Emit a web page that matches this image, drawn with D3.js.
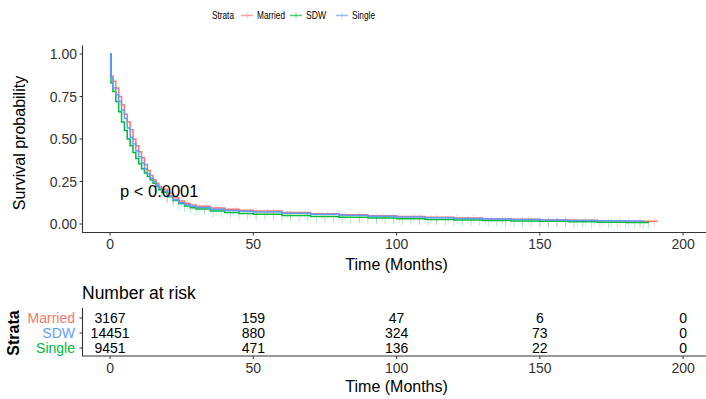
<!DOCTYPE html>
<html>
<head>
<meta charset="utf-8">
<script src="https://cdn.jsdelivr.net/npm/d3@7"></script>
<style>
  body { margin: 0; background: #fff; }
  text { font-family: "Liberation Sans", Arial, sans-serif; }
</style>
</head>
<body>
<div id="chart"></div>
<script>
// strata
const strata = ['Married', 'SDW', 'Single'];
const strataColors = ['#F8766D', '#00BA38', '#619CFF'];

// survival step curves (time in months, survival probability)
const marriedTime = [0, 0.3, 1, 2, 3, 4, 5, 6, 7, 8, 9, 10, 11, 12, 13, 14, 15, 16, 17, 18, 20, 22, 24, 26, 28, 30, 35, 40, 45, 50, 60, 70, 80, 90, 100, 110, 120, 130, 140, 150, 160, 170, 180, 191];
const marriedSurv = [1.0, 0.87, 0.84, 0.80, 0.75, 0.70, 0.645, 0.60, 0.555, 0.50, 0.46, 0.425, 0.39, 0.35, 0.315, 0.285, 0.26, 0.24, 0.22, 0.205, 0.18, 0.155, 0.135, 0.122, 0.112, 0.105, 0.094, 0.087, 0.081, 0.076, 0.068, 0.061, 0.055, 0.049, 0.044, 0.039, 0.035, 0.031, 0.028, 0.025, 0.022, 0.019, 0.016, 0.014];

const sdwTime = [0, 0.3, 1, 2, 3, 4, 5, 6, 7, 8, 9, 10, 11, 12, 13, 14, 15, 16, 17, 18, 20, 22, 24, 26, 28, 30, 35, 40, 45, 50, 60, 70, 80, 90, 100, 110, 120, 130, 140, 150, 160, 170, 180, 188];
const sdwSurv = [1.0, 0.83, 0.78, 0.72, 0.66, 0.60, 0.55, 0.50, 0.46, 0.42, 0.385, 0.355, 0.325, 0.30, 0.28, 0.26, 0.24, 0.22, 0.202, 0.186, 0.16, 0.138, 0.12, 0.106, 0.096, 0.088, 0.076, 0.068, 0.062, 0.058, 0.050, 0.044, 0.039, 0.035, 0.031, 0.027, 0.024, 0.021, 0.018, 0.016, 0.013, 0.011, 0.009, 0.008];

const singleTime = [0, 0.2, 1, 2, 3, 4, 5, 6, 7, 8, 9, 10, 11, 12, 13, 14, 15, 16, 17, 18, 20, 22, 24, 26, 28, 30, 35, 40, 45, 50, 60, 70, 80, 90, 100, 110, 120, 130, 140, 150, 160, 170, 180, 186];
const singleSurv = [1.0, 0.86, 0.80, 0.76, 0.72, 0.67, 0.62, 0.565, 0.51, 0.47, 0.43, 0.395, 0.36, 0.325, 0.295, 0.27, 0.25, 0.23, 0.21, 0.192, 0.165, 0.142, 0.125, 0.113, 0.104, 0.097, 0.087, 0.080, 0.075, 0.071, 0.063, 0.057, 0.051, 0.046, 0.041, 0.037, 0.033, 0.029, 0.026, 0.023, 0.021, 0.019, 0.017, 0.015];

// censoring times
const marriedCensor = [22, 27, 33, 38, 44, 51, 57, 63, 69, 76, 82, 88, 95, 101, 108, 114, 121, 127, 133, 140, 146, 153, 159, 166, 172, 178, 185, 190];
const sdwCensor = [14, 16, 18, 20, 22, 24, 26, 28, 30, 33, 36, 39, 42, 45, 48, 51, 54, 57, 60, 63, 66, 69, 72, 75, 78, 81, 84, 87, 90, 93, 96, 99, 102, 105, 108, 111, 114, 117, 120, 123, 126, 129, 132, 135, 138, 141, 144, 147, 150, 153, 156, 159, 162, 165, 168, 171, 174, 177, 180, 183, 186, 188];
const singleCensor = [20, 25, 31, 37, 43, 49, 55, 62, 68, 74, 80, 87, 93, 99, 106, 112, 118, 125, 131, 137, 144, 150, 156, 163, 169, 175, 181, 185];

// number at risk table
const riskTicks = [0, 50, 100, 150, 200];
const riskMarried = [3167, 159, 47, 6, 0];
const riskSdw = [14451, 880, 324, 73, 0];
const riskSingle = [9451, 471, 136, 22, 0];
const riskLabelColors = ['#F8766D', '#619CFF', '#00BA38'];

const xTicks = [0, 50, 100, 150, 200];
const yTicks = [0, 0.25, 0.5, 0.75, 1];

const width = 706, height = 399;

const svg = d3.select('#chart').append('svg')
  .attr('width', width)
  .attr('height', height);

const x = d3.scaleLinear().domain([-9.8, 208]).range([82, 706]);
const y = d3.scaleLinear().domain([-0.05, 1.05]).range([232.5, 45.5]);

const tickColor = '#333';
const axisColor = '#333';

// main panel axes
const gMain = svg.append('g').attr('class', 'main');

gMain.append('line')
  .attr('x1', 82.5).attr('x2', 82.5)
  .attr('y1', y(1.05)).attr('y2', y(-0.05))
  .attr('stroke', axisColor).attr('stroke-width', 1.1);
gMain.append('line')
  .attr('x1', 82).attr('x2', 706)
  .attr('y1', y(-0.05)).attr('y2', y(-0.05))
  .attr('stroke', axisColor).attr('stroke-width', 1.1);

yTicks.forEach(t => {
  gMain.append('line')
    .attr('x1', 79.5).attr('x2', 82.5)
    .attr('y1', y(t)).attr('y2', y(t))
    .attr('stroke', axisColor);
  gMain.append('text')
    .attr('x', 77).attr('y', y(t) + 5)
    .attr('text-anchor', 'end')
    .attr('font-size', 14)
    .attr('fill', tickColor)
    .text(d3.format('.2f')(t));
});

xTicks.forEach(t => {
  gMain.append('line')
    .attr('x1', x(t)).attr('x2', x(t))
    .attr('y1', y(-0.05)).attr('y2', y(-0.05) + 3)
    .attr('stroke', axisColor);
  gMain.append('text')
    .attr('x', x(t)).attr('y', 249)
    .attr('text-anchor', 'middle')
    .attr('font-size', 14)
    .attr('fill', tickColor)
    .text(t);
});

gMain.append('text')
  .attr('x', x(100)).attr('y', 270)
  .attr('text-anchor', 'middle')
  .attr('font-size', 16)
  .attr('fill', '#000')
  .text('Time (Months)');

gMain.append('text')
  .attr('transform', 'translate(25,143) rotate(-90)')
  .attr('text-anchor', 'middle')
  .attr('font-size', 16)
  .attr('fill', '#000')
  .text('Survival probability');

// curves
const series = [
  {key: 'Married', time: marriedTime, surv: marriedSurv, censor: marriedCensor, color: strataColors[0]},
  {key: 'SDW', time: sdwTime, surv: sdwSurv, censor: sdwCensor, color: strataColors[1]},
  {key: 'Single', time: singleTime, surv: singleSurv, censor: singleCensor, color: strataColors[2]}
];

const line = d3.line()
  .x(d => x(d[0]))
  .y(d => y(d[1]))
  .curve(d3.curveStepAfter);

function survAt(s, t) {
  let v = s.surv[0];
  for (let i = 0; i < s.time.length; i++) {
    if (s.time[i] <= t) v = s.surv[i];
  }
  return v;
}

// censor marks
series.forEach(s => {
  gMain.append('g')
    .attr('class', 'censor-' + s.key)
    .selectAll('line')
    .data(s.censor)
    .enter().append('line')
      .attr('x1', d => x(d)).attr('x2', d => x(d))
      .attr('y1', d => y(survAt(s, d)) - 3)
      .attr('y2', d => y(survAt(s, d)) + 6)
      .attr('stroke', s.color)
      .attr('stroke-opacity', 0.3)
      .attr('stroke-width', 1);
});

series.forEach(s => {
  gMain.append('path')
    .datum(s.time.map((t, i) => [t, s.surv[i]]))
    .attr('d', line)
    .attr('fill', 'none')
    .attr('stroke', s.color)
    .attr('stroke-width', 1.5);
});

gMain.append('text')
  .attr('x', 120).attr('y', 197)
  .attr('font-size', 16.5)
  .attr('fill', '#000')
  .text('p < 0.0001');

// legend
const legend = svg.append('g').attr('class', 'legend');
legend.append('text')
  .attr('x', 212).attr('y', 19)
  .attr('font-size', 11)
  .attr('textLength', 22)
  .attr('lengthAdjust', 'spacingAndGlyphs')
  .attr('fill', '#000')
  .text('Strata');
const legendX = [241, 290, 336];
const legendTextLen = [28, 20, 23];
strata.forEach((name, i) => {
  const lg = legend.append('g').attr('transform', 'translate(' + legendX[i] + ',15.5)');
  lg.append('line')
    .attr('x1', 0).attr('x2', 12)
    .attr('y1', 0).attr('y2', 0)
    .attr('stroke', strataColors[i])
    .attr('stroke-opacity', 0.7)
    .attr('stroke-width', 1.5);
  lg.append('line')
    .attr('x1', 6).attr('x2', 6)
    .attr('y1', -3).attr('y2', 3)
    .attr('stroke', strataColors[i])
    .attr('stroke-opacity', 0.4);
  lg.append('text')
    .attr('x', 16).attr('y', 3.5)
    .attr('font-size', 11)
    .attr('textLength', legendTextLen[i])
    .attr('lengthAdjust', 'spacingAndGlyphs')
    .attr('fill', '#000')
    .text(name);
});

// risk table
const gRisk = svg.append('g').attr('class', 'risk');
const riskRows = [riskMarried, riskSdw, riskSingle];
const rowY = [318, 333, 348];
const riskBottom = 356;

gRisk.append('text')
  .attr('x', 82).attr('y', 299)
  .attr('font-size', 17.5)
  .attr('fill', '#000')
  .text('Number at risk');

gRisk.append('line')
  .attr('x1', 82.5).attr('x2', 82.5)
  .attr('y1', 308).attr('y2', riskBottom)
  .attr('stroke', axisColor).attr('stroke-width', 1.1);
gRisk.append('line')
  .attr('x1', 82).attr('x2', 706)
  .attr('y1', riskBottom).attr('y2', riskBottom)
  .attr('stroke', axisColor).attr('stroke-width', 1.1);

strata.forEach((name, i) => {
  gRisk.append('line')
    .attr('x1', 79.5).attr('x2', 82.5)
    .attr('y1', rowY[i]).attr('y2', rowY[i])
    .attr('stroke', axisColor);
  gRisk.append('text')
    .attr('x', 75).attr('y', rowY[i] + 5)
    .attr('text-anchor', 'end')
    .attr('font-size', 14)
    .attr('fill', riskLabelColors[i])
    .text(name);
  gRisk.append('g')
    .selectAll('text')
    .data(riskRows[i])
    .enter().append('text')
      .attr('x', (d, j) => x(riskTicks[j]))
      .attr('y', rowY[i] + 5)
      .attr('text-anchor', 'middle')
      .attr('font-size', 14)
      .attr('fill', '#000')
      .text(d => d);
});

xTicks.forEach(t => {
  gRisk.append('line')
    .attr('x1', x(t)).attr('x2', x(t))
    .attr('y1', riskBottom).attr('y2', riskBottom + 3)
    .attr('stroke', axisColor);
  gRisk.append('text')
    .attr('x', x(t)).attr('y', 373)
    .attr('text-anchor', 'middle')
    .attr('font-size', 14)
    .attr('fill', tickColor)
    .text(t);
});

gRisk.append('text')
  .attr('x', x(100)).attr('y', 392)
  .attr('text-anchor', 'middle')
  .attr('font-size', 16)
  .attr('fill', '#000')
  .text('Time (Months)');

gRisk.append('text')
  .attr('transform', 'translate(19,333) rotate(-90)')
  .attr('text-anchor', 'middle')
  .attr('font-size', 16)
  .attr('font-weight', 'bold')
  .attr('fill', '#000')
  .text('Strata');
</script>
</body>
</html>
